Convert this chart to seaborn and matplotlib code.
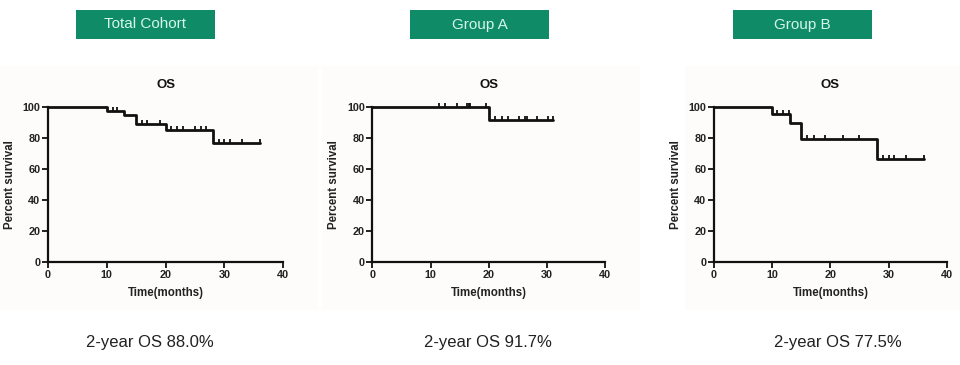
import numpy as np
import pandas as pd
import seaborn as sns
import matplotlib.pyplot as plt
from matplotlib.path import Path
from matplotlib.patches import Rectangle

sns.set_theme(style="white")
plt.rcParams['font.family'] = ['Liberation Sans', 'DejaVu Sans']

# Kaplan-Meier step data
groups = ["Total Cohort", "Group A", "Group B"]
summary = ["2-year OS 88.0%", "2-year OS 91.7%", "2-year OS 77.5%"]

total_times = [0, 10, 13, 15, 20, 28, 36]
total_surv = [100, 97.5, 95, 89, 85.5, 77, 77]
total_cens = [11, 11.8, 16, 16.9, 19, 21, 22, 23, 25, 26, 26.9, 29, 30, 31, 33, 36]

a_times = [0, 20, 31]
a_surv = [100, 91.7, 91.7]
a_cens = [11.5, 12.5, 14.5, 16.2, 16.6, 16.8, 19.5, 21, 22.2, 23.3, 25.2, 26.2, 26.6, 28.2, 30.1, 31]

b_times = [0, 10, 13, 15, 28, 36]
b_surv = [100, 95.5, 90, 79.5, 66.5, 66.5]
b_cens = [10.9, 11.8, 12.8, 15.9, 17.1, 19, 22.1, 24.9, 29.1, 30, 30.9, 32.9, 36]

curves = [(total_times, total_surv, total_cens),
          (a_times, a_surv, a_cens),
          (b_times, b_surv, b_cens)]

# axes positions in figure fraction [left, bottom, width, height]
axes_pos = [[0.050, 0.282, 0.245, 0.424],
            [0.388, 0.282, 0.2425, 0.424],
            [0.7438, 0.282, 0.2425, 0.424]]
box_x = [76, 410, 733]
text_x = [150, 488, 838]

fig = plt.figure(figsize=(9.6, 3.65), dpi=100)
fig.patch.set_facecolor("white")

# faint background panels
for x0, w in [(0, 318), (322, 318), (685, 275)]:
    fig.add_artist(Rectangle((x0 / 960, 0.15), w / 960, 0.67, transform=fig.transFigure,
                             facecolor="#fdfcfa", edgecolor="none", zorder=-10))

tick_marker = Path([(0, 0), (0, 1)], [Path.MOVETO, Path.LINETO])

for i, (times, surv, cens) in enumerate(curves):
    ax = fig.add_axes(axes_pos[i])
    ax.set_zorder(5)
    ax.set_facecolor("none")
    df = pd.DataFrame({"time": times, "surv": surv})
    sns.lineplot(data=df, x="time", y="surv", ax=ax, color="#111111", lw=2.0,
                 drawstyle="steps-post", estimator=None, sort=False, clip_on=False)
    ct = np.array(cens)
    idx = np.searchsorted(times, ct, side="right") - 1
    cs = np.array(surv)[idx]
    ax.plot(ct, cs, linestyle="none", marker=tick_marker, markersize=6,
            markeredgecolor="#111111", markeredgewidth=1.3, clip_on=False)

    ax.set_xlim(0, 40)
    ax.set_ylim(0, 100)
    ax.set_xticks([0, 10, 20, 30, 40])
    ax.set_yticks([0, 20, 40, 60, 80, 100])
    for s in ["top", "right"]:
        ax.spines[s].set_visible(False)
    for s in ["left", "bottom"]:
        ax.spines[s].set_color("#111111")
        ax.spines[s].set_linewidth(1.6)
    ax.tick_params(axis="both", direction="out", length=4, width=1.3, color="#111111",
                   labelsize=7.8, pad=1.5, left=True, bottom=True)
    for lab in ax.get_xticklabels() + ax.get_yticklabels():
        lab.set_fontweight("bold")
        lab.set_color("#222222")
    ax.set_xlabel("Time(months)", fontsize=8.3, fontweight="bold", color="#222222", labelpad=5)
    ax.set_ylabel("Percent survival", fontsize=8.3, fontweight="bold", color="#222222", labelpad=5)
    ax.set_title("OS", fontsize=9.5, fontweight="bold", color="#111111", pad=14)

    # green header box
    fig.add_artist(Rectangle((box_x[i] / 960, 1 - 39 / 365), 139 / 960, 29 / 365,
                             transform=fig.transFigure, facecolor="#0f8b68",
                             edgecolor="none"))
    fig.text((box_x[i] + 69.5) / 960, 1 - 24.5 / 365, groups[i], ha="center", va="center",
             fontsize=11, color="#d4f7ea")
    fig.text(text_x[i] / 960, 1 - 342 / 365, summary[i], ha="center", va="center",
             fontsize=12, color="#222222")

plt.savefig("out.png", dpi=100)
